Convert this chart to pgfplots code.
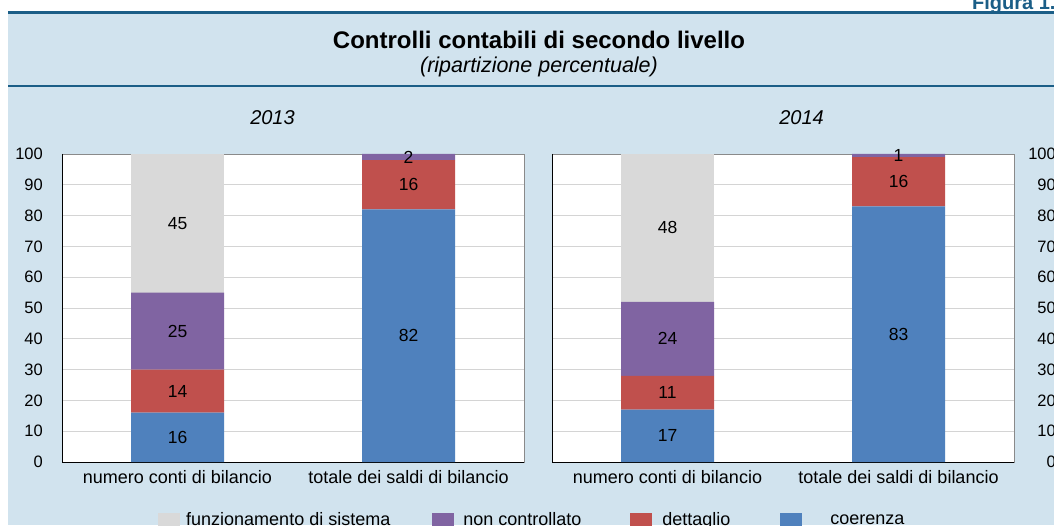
\documentclass[border=0pt]{standalone}
\usepackage{pgfplots}
\usepackage{pgfplotstable}
\pgfplotsset{compat=1.18}
\usepackage{fontspec}
\setmainfont{Liberation Sans}
\newcommand\fsz[1]{\fontsize{#1}{#1}\selectfont}
\definecolor{bgblue}{HTML}{D1E3EE}
\definecolor{tealc}{HTML}{1B5E87}
\definecolor{cgray}{HTML}{D9D9D9}
\definecolor{cpurple}{HTML}{8064A2}
\definecolor{cred}{HTML}{C0504D}
\definecolor{cblue}{HTML}{4F81BD}
\definecolor{gridc}{HTML}{D4D4D4}
\definecolor{framec}{HTML}{8A8A8A}

\pgfplotstableread{
x coe det non fun
0 16 14 25 45
1 82 16 2 0
}\dataA
\pgfplotstableread{
x coe det non fun
0 17 11 24 48
1 83 16 1 0
}\dataB
\pgfplotstableread{
x y lab
0 8 16
0 23 14
0 42.5 25
0 77.5 45
1 41 82
1 90 16
1 99 2
}\labA
\pgfplotstableread{
x y lab
0 8.5 17
0 22.5 11
0 40 24
0 76 48
1 41.5 83
1 91 16
1 99.5 1
}\labB

\pgfplotsset{
  panel/.style={
    anchor=south west,
    width=462pt, height=308pt, scale only axis,
    xmin=-0.5, xmax=1.5, ymin=0, ymax=100,
  },
  barpanel/.style={
    panel,
    ybar stacked, bar width=93pt,
    axis background/.style={fill=white},
    xtick={0,1},
    xticklabels={numero conti di bilancio, totale dei saldi di bilancio},
    ytick={0,10,...,100},
    ymajorgrids, grid style={gridc, line width=0.9pt},
    major tick length=0pt,
    axis line style={framec, line width=0.9pt},
    /pgf/number format/assume math mode=true,
    xticklabel style={font=\fsz{18}, inner sep=0pt, yshift=-8pt},
    yticklabel style={font=\fsz{16.5}, inner sep=0pt},
  },
  labpanel/.style={
    panel, hide axis,
  },
}

\begin{document}
\begin{tikzpicture}[x=1pt,y=1pt]
% backgrounds
\fill[white] (0,0) rectangle (1054,525);
\fill[bgblue] (8,0) rectangle (1054,511);
\draw[tealc, line width=2.5pt] (8,512.3) -- (1054,512.3);
\draw[tealc, line width=1.6pt] (8,439) -- (1054,439);
\node[anchor=base west, inner sep=0pt, text=tealc, font=\fsz{20}\bfseries] at (972,515.5) {Figura 1.};
\node[anchor=base, inner sep=0pt, font=\fsz{24}\bfseries] at (539,476.5) {Controlli contabili di secondo livello};
\node[anchor=base, inner sep=0pt, font=\fsz{21.5}\itshape] at (539,452.5) {(ripartizione percentuale)};
\node[anchor=base, inner sep=0pt, font=\fsz{20}\itshape] at (272.5,400) {2013};
\node[anchor=base, inner sep=0pt, font=\fsz{20}\itshape] at (801.5,400) {2014};

% panel 2013
\begin{axis}[barpanel, at={(62pt,63pt)},
  yticklabel style={xshift=-19pt},
  reverse legend,
  legend columns=4,
  legend image code/.code={\fill[#1] (0pt,-7pt) rectangle (22pt,7pt);},
  legend style={at={(0.2078,-0.188)}, anchor=west, draw=none, fill=none,
    font=\fsz{18}, inner sep=0pt, nodes={inner sep=0pt},
    /tikz/column 2/.style={column sep=42pt},
    /tikz/column 4/.style={column sep=49pt},
    /tikz/column 6/.style={column sep=50pt}},
]
\addplot[fill=cblue, draw=none] table[x=x,y=coe] {\dataA};
\addlegendentry{\hspace{28pt}coerenza}
\addplot[fill=cred, draw=none] table[x=x,y=det] {\dataA};
\addlegendentry{\hspace{10pt}dettaglio}
\addplot[fill=cpurple, draw=none] table[x=x,y=non] {\dataA};
\addlegendentry{\hspace{9pt}non controllato}
\addplot[fill=cgray, draw=none] table[x=x,y=fun] {\dataA};
\addlegendentry{\hspace{6pt}funzionamento di sistema}
\draw[black, line width=0.9pt] (rel axis cs:0,1) -- (rel axis cs:0,0) -- (rel axis cs:1,0);
\end{axis}
\begin{axis}[labpanel, at={(62pt,63pt)}]
\addplot[draw=none, mark=none, nodes near coords, point meta=explicit symbolic,
  every node near coord/.style={anchor=center, font=\fsz{17.5}, inner sep=0pt}]
  table[x=x,y=y,meta=lab] {\labA};
\end{axis}

% panel 2014
\begin{axis}[barpanel, at={(552pt,63pt)},
  yticklabel pos=right,
  yticklabel style={anchor=east, xshift=42pt},
]
\addplot[fill=cblue, draw=none] table[x=x,y=coe] {\dataB};
\addplot[fill=cred, draw=none] table[x=x,y=det] {\dataB};
\addplot[fill=cpurple, draw=none] table[x=x,y=non] {\dataB};
\addplot[fill=cgray, draw=none] table[x=x,y=fun] {\dataB};
\draw[black, line width=0.9pt] (rel axis cs:0,1) -- (rel axis cs:0,0) -- (rel axis cs:1,0);
\end{axis}
\begin{axis}[labpanel, at={(552pt,63pt)}]
\addplot[draw=none, mark=none, nodes near coords, point meta=explicit symbolic,
  every node near coord/.style={anchor=center, font=\fsz{17.5}, inner sep=0pt}]
  table[x=x,y=y,meta=lab] {\labB};
\end{axis}

\pgfresetboundingbox
\path[use as bounding box] (0,0) rectangle (1054,525);
\end{tikzpicture}
\end{document}
